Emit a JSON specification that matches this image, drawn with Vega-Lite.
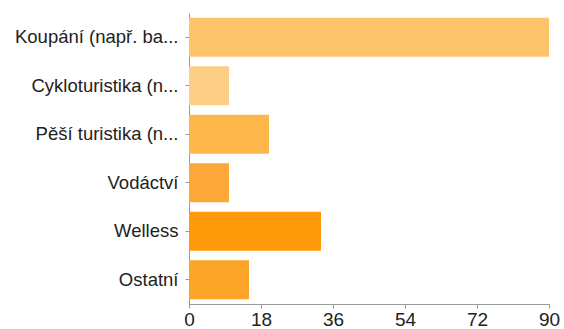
{
  "$schema": "https://vega.github.io/schema/vega-lite/v6.json",
  "autosize": {"type": "none"},
  "padding": {"left": 189, "top": 13, "right": 15, "bottom": 25},
  "width": 360,
  "height": 291,
  "background": "white",
  "config": {"view": {"stroke": null}},
  "data": {
    "values": [
      {"kategorie": "Koupání (např. ba...", "pocet": 90, "barva": "#FDC46C"},
      {"kategorie": "Cykloturistika (n...", "pocet": 10, "barva": "#FDCF86"},
      {"kategorie": "Pěší turistika (n...", "pocet": 20, "barva": "#FDB64A"},
      {"kategorie": "Vodáctví", "pocet": 10, "barva": "#FBA73A"},
      {"kategorie": "Welless", "pocet": 33, "barva": "#FF9A0A"},
      {"kategorie": "Ostatní", "pocet": 15, "barva": "#FCA428"}
    ]
  },
  "mark": {"type": "bar"},
  "encoding": {
    "y": {
      "field": "kategorie",
      "type": "nominal",
      "sort": null,
      "scale": {"paddingInner": 0.2, "paddingOuter": 0.1},
      "axis": {
        "title": null,
        "labelFont": "Liberation Sans",
        "labelFontSize": 18.5,
        "labelColor": "#222",
        "labelLimit": 200,
        "labelPadding": 7,
        "tickSize": 4,
        "tickColor": "#999",
        "domainColor": "#999",
        "grid": false
      }
    },
    "x": {
      "field": "pocet",
      "type": "quantitative",
      "scale": {"domain": [0, 90], "nice": false},
      "axis": {
        "title": null,
        "values": [0, 18, 36, 54, 72, 90],
        "labelFont": "Liberation Sans",
        "labelFontSize": 19,
        "labelColor": "#222",
        "labelPadding": 2,
        "labelFlush": false,
        "tickSize": 4,
        "tickColor": "#999",
        "domainColor": "#999",
        "grid": false
      }
    },
    "color": {"field": "barva", "type": "nominal", "scale": null, "legend": null}
  }
}
